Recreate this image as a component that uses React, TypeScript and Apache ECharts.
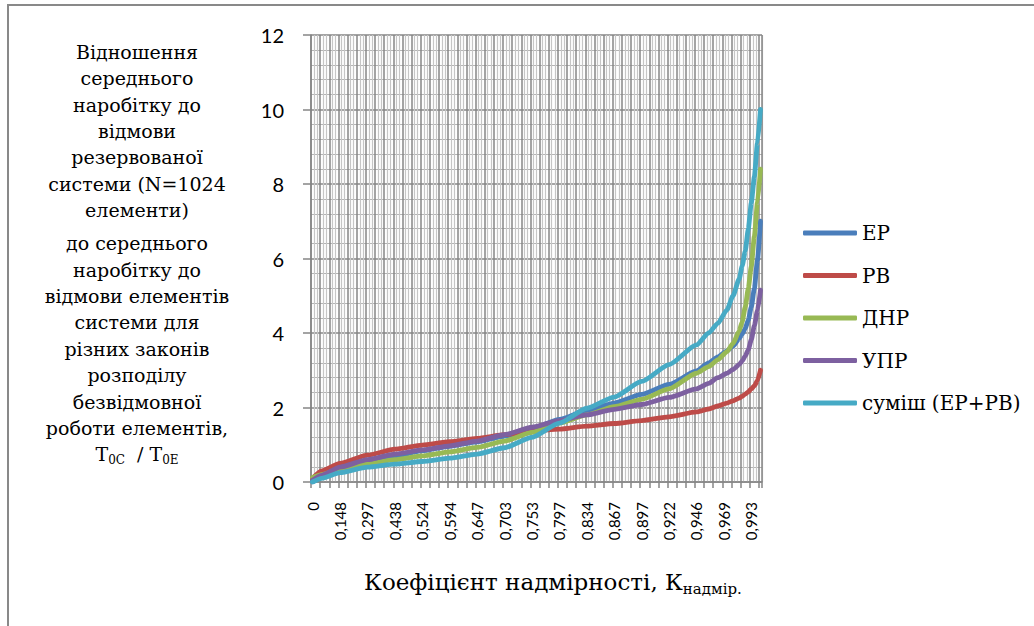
import React, { useEffect, useRef } from 'react';
import * as echarts from 'echarts';

// X tick labels (coefficient of redundancy), one label every 9 categories
const kLabels = ['0', '0,148', '0,297', '0,438', '0,524', '0,594', '0,647', '0,703', '0,753', '0,797', '0,834', '0,867', '0,897', '0,922', '0,946', '0,969', '0,993'];
const categoryCount = 148;
const labelStep = 9;

// category indices at which values were read
const pointIdx = [0, 3, 9, 18, 27, 36, 45, 54, 63, 72, 81, 90, 99, 108, 117, 126, 130, 133, 136, 138, 140, 141, 142, 143, 144, 145, 146, 147];

const valEP = [0.0, 0.12, 0.32, 0.52, 0.69, 0.84, 0.96, 1.08, 1.23, 1.43, 1.68, 1.92, 2.12, 2.35, 2.62, 2.98, 3.2, 3.36, 3.52, 3.65, 3.85, 3.97, 4.12, 4.35, 4.7, 5.2, 5.95, 7.0];
const valRV = [0.1, 0.3, 0.5, 0.72, 0.88, 0.99, 1.08, 1.17, 1.27, 1.37, 1.42, 1.5, 1.57, 1.65, 1.75, 1.88, 1.96, 2.04, 2.12, 2.18, 2.25, 2.3, 2.36, 2.42, 2.5, 2.58, 2.72, 3.0];
const valDNR = [0.12, 0.2, 0.33, 0.48, 0.6, 0.7, 0.81, 0.93, 1.1, 1.33, 1.58, 1.8, 2.02, 2.22, 2.5, 2.92, 3.1, 3.28, 3.5, 3.72, 4.05, 4.3, 4.7, 5.2, 5.8, 6.6, 7.5, 8.4];
const valUPR = [0.05, 0.18, 0.4, 0.6, 0.75, 0.86, 0.97, 1.1, 1.27, 1.47, 1.65, 1.8, 1.95, 2.08, 2.27, 2.5, 2.65, 2.8, 2.92, 3.02, 3.15, 3.25, 3.38, 3.55, 3.82, 4.2, 4.6, 5.15];
const valMix = [0.0, 0.1, 0.25, 0.4, 0.48, 0.55, 0.64, 0.75, 0.92, 1.2, 1.58, 1.98, 2.28, 2.7, 3.15, 3.68, 4.0, 4.26, 4.62, 5.0, 5.45, 5.8, 6.2, 6.8, 7.5, 8.2, 9.1, 10.0];

const seriesNames = ['ЕР', 'РВ', 'ДНР', 'УПР', 'суміш (ЕР+РВ)'];
const seriesColors = ['#4A7EBB', '#BE4B48', '#98B954', '#7D60A0', '#46AAC5'];
const seriesValues = [valEP, valRV, valDNR, valUPR, valMix];

const yMin = 0;
const yMax = 12;
const yStep = 2;

const titleBlock1 = ['Відношення', 'середнього', 'наробітку до', 'відмови', 'резервованої', 'системи (N=1024', 'елементи)'];
const titleBlock2 = ['до середнього', 'наробітку до', 'відмови елементів', 'системи для', 'різних законів', 'розподілу', 'безвідмовної', 'роботи елементів,', 'T{sub|0C}  / T{sub|0E}'];
const xTitle = '{a|Коефіцієнт надмірності, К}{sub|надмір.}';

const SERIF = "'DejaVu Serif', serif";
const SANS = "Lato, sans-serif";

export default function App() {
  const ref = useRef<HTMLDivElement>(null);
  useEffect(() => {
    if (!ref.current) return;
    const chart = echarts.init(ref.current, undefined, { renderer: 'svg' });
    const categories = Array.from({ length: categoryCount }, (_, i) =>
      i % labelStep === 0 && i / labelStep < kLabels.length ? kLabels[i / labelStep] : ''
    );
    const option: any = {
      animation: false,
      backgroundColor: '#fff',
      grid: { left: 311, right: 272, top: 35, bottom: 144, containLabel: false },
      xAxis: [
        {
          type: 'category',
          data: categories,
          boundaryGap: true,
          axisLine: { show: true, lineStyle: { color: '#868686', width: 1.5 } },
          axisTick: { show: true, interval: 2, length: 6, lineStyle: { color: '#868686', width: 1.5 } },
          axisLabel: { interval: labelStep - 1, rotate: 90, margin: 20, fontFamily: SANS, fontSize: 15, color: '#000' },
          splitLine: { show: true, interval: 2, lineStyle: { color: '#868686', width: 1.5 } },
          z: 2,
        },
        {
          type: 'category',
          data: categories,
          boundaryGap: true,
          position: 'bottom',
          axisLine: { show: false },
          axisTick: { show: false },
          axisLabel: { show: false },
          splitLine: { show: true, interval: (i: number) => i % 3 !== 0, lineStyle: { color: '#c6c6c6', width: 1.2 } },
          z: 1,
        },
      ],
      yAxis: {
        type: 'value',
        min: yMin,
        max: yMax,
        interval: yStep,
        axisLine: { show: true, lineStyle: { color: '#868686', width: 1.5 } },
        axisTick: { show: true, length: 8, lineStyle: { color: '#868686', width: 1.5 } },
        axisLabel: { margin: 27, fontFamily: SANS, fontSize: 20, color: '#000' },
        splitLine: { show: true, lineStyle: { color: '#868686', width: 1.5 } },
        minorTick: { show: false, splitNumber: 5 },
        minorSplitLine: { show: true, lineStyle: { color: '#b4b4b4', width: 1.2 } },
      },
      legend: {
        orient: 'vertical',
        left: 798,
        top: 216,
        icon: 'roundRect',
        itemWidth: 54,
        itemHeight: 5,
        itemGap: 18.5,
        textStyle: { fontFamily: SERIF, fontSize: 20, color: '#000', lineHeight: 24 },
        data: seriesNames,
      },
      series: seriesNames.map((name, s) => ({
        name,
        type: 'line',
        xAxisIndex: 0,
        data: pointIdx.map((ix, k) => [ix, seriesValues[s][k]]),
        showSymbol: false,
        symbol: 'none',
        smooth: 0.2,
        smoothMonotone: 'x',
        lineStyle: { color: seriesColors[s], width: 4.8, cap: 'round', join: 'round' },
        itemStyle: { color: seriesColors[s] },
        z: 3 + s,
      })),
      graphic: [
        {
          type: 'rect',
          silent: true,
          shape: { x: 8, y: 5, width: 1100, height: 700 },
          style: { fill: 'none', stroke: '#898989', lineWidth: 2 },
        },
        {
          type: 'text',
          silent: true,
          style: {
            text: titleBlock1.join('\n'),
            x: 137,
            y: 38.5,
            textAlign: 'center',
            textVerticalAlign: 'top',
            fontFamily: SERIF,
            fontSize: 19,
            lineHeight: 26.4,
            fill: '#000',
          },
        },
        {
          type: 'text',
          silent: true,
          style: {
            text: titleBlock2.join('\n'),
            x: 137,
            y: 230,
            textAlign: 'center',
            textVerticalAlign: 'top',
            fontFamily: SERIF,
            fontSize: 19,
            lineHeight: 26.4,
            fill: '#000',
            rich: {
              sub: { fontFamily: SERIF, fontSize: 12, lineHeight: 26.4, padding: [11, 0, 0, 0] },
            },
          },
        },
        {
          type: 'text',
          silent: true,
          style: {
            text: xTitle,
            x: 553,
            y: 582,
            textAlign: 'center',
            textVerticalAlign: 'middle',
            fill: '#000',
            rich: {
              a: { fontFamily: SERIF, fontSize: 23, lineHeight: 30 },
              sub: { fontFamily: SERIF, fontSize: 15, lineHeight: 30, padding: [14, 0, 0, 0] },
            },
          },
        },
      ],
    };
    chart.setOption(option);
    return () => chart.dispose();
  }, []);
  return (
    <div
      ref={ref}
      style={{ position: 'absolute', left: 0, top: 0, width: '1034px', height: '626px' }}
    />
  );
}
